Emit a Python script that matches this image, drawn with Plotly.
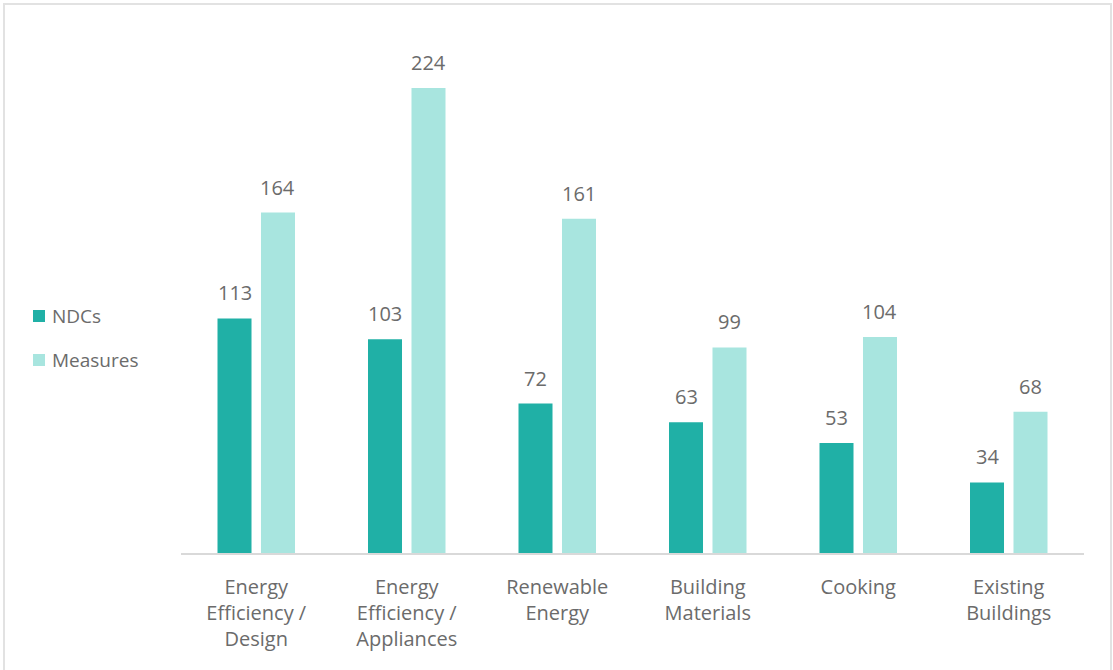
import plotly.graph_objects as go

categories = [
    "Energy<br>Efficiency /<br>Design",
    "Energy<br>Efficiency /<br>Appliances",
    "Renewable<br>Energy",
    "Building<br>Materials",
    "Cooking",
    "Existing<br>Buildings",
]
ndcs = [113, 103, 72, 63, 53, 34]
measures = [164, 224, 161, 99, 104, 68]
series_names = ["NDCs", "Measures"]
series_colors = ["#20B0A6", "#A8E5DF"]

FONT = "Open Sans, Noto Sans, sans-serif"
TEXT_GRAY = "#6b6b6b"

W, H = 1113, 670
L, R, T, B = 181, 29, 34, 117
pw, ph = W - L - R, H - T - B
BARGAP, GROUPGAP = 0.422, 0.218


def px_x(x):
    return (x - L) / pw


def px_y(y):
    return (H - B - y) / ph


fig = go.Figure()
for name, vals, color in zip(series_names, [ndcs, measures], series_colors):
    fig.add_trace(go.Bar(
        name=name, x=categories, y=vals,
        marker=dict(color=color, line=dict(width=0)),
        showlegend=False,
    ))

# value labels above each bar, shifted to the bar's slot within its group
slot = pw / len(categories) * (1 - BARGAP) / 2
annotations = []
for k, vals in enumerate([ndcs, measures]):
    shift = (k - 0.5) * slot
    for cat, v in zip(categories, vals):
        annotations.append(dict(
            x=cat, y=v, xref="x", yref="y", text=str(v), showarrow=False,
            xanchor="center", yanchor="bottom", xshift=shift, yshift=10,
            font=dict(family=FONT, size=20, color=TEXT_GRAY),
        ))

# legend: colour swatch plus name
shapes = []
legend_rows = [316, 360]
for name, color, yc in zip(series_names, series_colors, legend_rows):
    shapes.append(dict(
        type="rect", xref="paper", yref="paper",
        x0=px_x(33), x1=px_x(45), y0=px_y(yc + 6), y1=px_y(yc - 6),
        fillcolor=color, line=dict(width=0),
    ))
    annotations.append(dict(
        x=px_x(50), y=px_y(yc), xref="paper", yref="paper", text=name,
        showarrow=False, xanchor="left", yanchor="middle",
        font=dict(family=FONT, size=19, color=TEXT_GRAY),
    ))

# light frame around the whole chart
shapes.append(dict(
    type="rect", xref="paper", yref="paper",
    x0=px_x(4), x1=px_x(1111), y0=px_y(4), y1=px_y(700),
    line=dict(color="#e2e2e2", width=2), fillcolor="rgba(0,0,0,0)",
    layer="below",
))

fig.update_layout(
    width=W, height=H,
    margin=dict(l=L, r=R, t=T, b=B),
    paper_bgcolor="white", plot_bgcolor="white",
    barmode="group", bargap=BARGAP, bargroupgap=GROUPGAP,
    font=dict(family=FONT, color=TEXT_GRAY),
    showlegend=False,
    xaxis=dict(
        showline=True, linecolor="#d9d9d9", linewidth=2,
        ticks="", showgrid=False, ticklabelstandoff=15,
        tickfont=dict(family=FONT, size=20, color=TEXT_GRAY),
    ),
    yaxis=dict(
        range=[0, 250], visible=False, showgrid=False, zeroline=False,
    ),
    annotations=annotations,
    shapes=shapes,
)

fig.write_html("out.html")
